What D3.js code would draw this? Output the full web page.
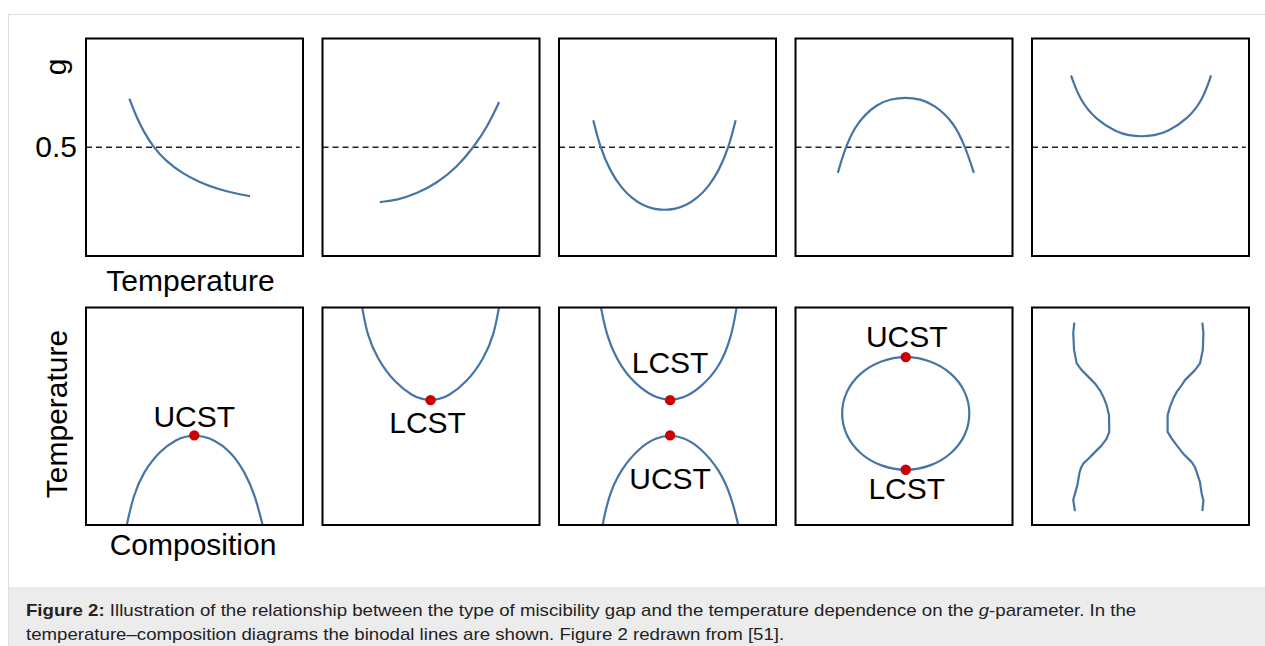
<!DOCTYPE html>
<html>
<head>
<meta charset="utf-8">
<script src="https://cdn.jsdelivr.net/npm/d3@7"></script>
<style>
  html, body { margin: 0; padding: 0; background: #fff; }
  svg { display: block; }
  text { font-family: "Liberation Sans", Arial, Helvetica, sans-serif; }
</style>
</head>
<body>
<svg id="chart" width="1265" height="646"></svg>
<script>
// ---------- DATA ----------
// Top row: g-parameter vs temperature (x: temperature 0..1, y: g 0..1)
const gDecreasing = [[0.200,0.723],[0.230,0.645],[0.265,0.573],[0.310,0.501],[0.370,0.435],[0.440,0.383],[0.520,0.340],[0.610,0.307],[0.690,0.287],[0.756,0.275]];
const gIncreasing = [[0.264,0.248],[0.344,0.257],[0.436,0.288],[0.529,0.336],[0.621,0.410],[0.697,0.501],[0.759,0.593],[0.814,0.708]];
const gMinimum = [[0.158,0.624],[0.189,0.501],[0.236,0.390],[0.286,0.315],[0.336,0.265],[0.386,0.233],[0.436,0.216],[0.486,0.211],[0.536,0.216],[0.586,0.233],[0.636,0.265],[0.686,0.315],[0.736,0.390],[0.783,0.501],[0.814,0.624]];
const gMaximum = [[0.195,0.382],[0.230,0.501],[0.284,0.616],[0.376,0.700],[0.440,0.722],[0.507,0.730],[0.575,0.722],[0.637,0.697],[0.729,0.616],[0.783,0.501],[0.822,0.382]];
const gAbove = [[0.180,0.830],[0.221,0.716],[0.298,0.624],[0.390,0.570],[0.447,0.554],[0.505,0.549],[0.563,0.554],[0.621,0.570],[0.720,0.631],[0.789,0.723],[0.825,0.830]];
const gReference = 0.5;
const gTickValues = [0.5];
const gTickLabels = ["0.5"];

// Bottom row: temperature vs composition (binodal lines)
const binodalUCST = [[0.188,0.0],[0.218,0.136],[0.264,0.243],[0.341,0.343],[0.418,0.394],[0.459,0.407],[0.499,0.412],[0.540,0.407],[0.586,0.394],[0.664,0.343],[0.733,0.243],[0.779,0.136],[0.814,0.0]];
const binodalLCST = [[0.183,1.0],[0.206,0.873],[0.252,0.766],[0.329,0.658],[0.421,0.589],[0.460,0.579],[0.498,0.574],[0.537,0.579],[0.575,0.589],[0.667,0.658],[0.744,0.766],[0.790,0.873],[0.813,1.0]];
const hourglassUpper = [[0.194,0.997],[0.220,0.866],[0.281,0.728],[0.373,0.628],[0.452,0.582],[0.512,0.574],[0.572,0.582],[0.650,0.628],[0.742,0.728],[0.795,0.866],[0.818,0.997]];
const hourglassLower = [[0.201,0.0],[0.227,0.128],[0.281,0.251],[0.373,0.359],[0.452,0.404],[0.512,0.412],[0.572,0.404],[0.650,0.359],[0.742,0.251],[0.795,0.128],[0.826,0.0]];
const closedLoop = [[0.801,0.513],[0.779,0.612],[0.715,0.696],[0.620,0.752],[0.508,0.772],[0.396,0.752],[0.301,0.696],[0.237,0.612],[0.215,0.513],[0.237,0.414],[0.301,0.330],[0.396,0.274],[0.508,0.254],[0.620,0.274],[0.715,0.330],[0.779,0.414]];
const wiggleLeft = [[0.195,0.930],[0.190,0.881],[0.194,0.804],[0.206,0.743],[0.229,0.712],[0.260,0.681],[0.275,0.666],[0.290,0.651],[0.306,0.628],[0.313,0.620],[0.329,0.589],[0.344,0.551],[0.355,0.505],[0.356,0.428],[0.344,0.397],[0.321,0.366],[0.290,0.335],[0.260,0.305],[0.236,0.282],[0.224,0.259],[0.218,0.236],[0.209,0.182],[0.198,0.144],[0.190,0.116],[0.198,0.064]];
const wiggleRight = [[0.785,0.930],[0.790,0.881],[0.787,0.804],[0.774,0.743],[0.751,0.712],[0.720,0.681],[0.705,0.666],[0.690,0.643],[0.679,0.628],[0.667,0.612],[0.651,0.582],[0.636,0.543],[0.625,0.505],[0.625,0.428],[0.644,0.397],[0.667,0.366],[0.697,0.328],[0.736,0.289],[0.751,0.266],[0.759,0.243],[0.774,0.197],[0.782,0.144],[0.790,0.113],[0.785,0.064]];

// critical points
const criticalPanels = [0, 1, 2, 2, 3, 3];
const criticalX = [0.499, 0.498, 0.512, 0.512, 0.508, 0.508];
const criticalY = [0.412, 0.574, 0.574, 0.412, 0.772, 0.254];
const criticalLabels = ["UCST", "LCST", "LCST", "UCST", "UCST", "LCST"];

const topLabelX = "Temperature";
const topLabelY = "g";
const bottomLabelX = "Composition";
const bottomLabelY = "Temperature";
const captionBold = "Figure 2:";
const captionLine1a = " Illustration of the relationship between the type of miscibility gap and the temperature dependence on the ";
const captionItalic = "g";
const captionLine1b = "-parameter. In the";
const captionLine2 = "temperature\u2013composition diagrams the binodal lines are shown. Figure 2 redrawn from [51].";

// ---------- LAYOUT ----------
const svg = d3.select("#chart");
const W = 1265, H = 646;
const panelLefts = [86, 322.5, 559, 795.5, 1032];
const panelW = 217, panelH = 217.5;
const topRowTop = 38.5, bottomRowTop = 307.5;
const lineColor = "#4674a6";
const dotColor = "#cc0000";
const fontSize = 30;
// label offsets (pixels) relative to the critical point marker
const labelDx = [0, -3, 0, 0, 1, 1];
const labelDy = [-8, 33, -27, 54, -10, 29];

svg.append("rect").attr("x", 0).attr("y", 0).attr("width", W).attr("height", H).attr("fill", "#fff");
svg.append("rect").attr("x", 8.5).attr("y", 14.5).attr("width", W).attr("height", H)
  .attr("fill", "#fff").attr("stroke", "#dedede").attr("stroke-width", 1);
svg.append("rect").attr("x", 9).attr("y", 587).attr("width", W - 9).attr("height", H - 587).attr("fill", "#ececec");

function makeScales(i, top) {
  const x = d3.scaleLinear().domain([0, 1]).range([panelLefts[i], panelLefts[i] + panelW]);
  const y = d3.scaleLinear().domain([0, 1]).range([top + panelH, top]);
  return { x, y };
}

const topSeries = [gDecreasing, gIncreasing, gMinimum, gMaximum, gAbove];
const bottomSeries = [[binodalUCST], [binodalLCST], [hourglassUpper, hourglassLower], [closedLoop], [wiggleLeft, wiggleRight]];

// Top row
topSeries.forEach((series, i) => {
  const { x, y } = makeScales(i, topRowTop);
  const g = svg.append("g");
  g.append("line")
    .attr("x1", x(0)).attr("x2", x(0.985))
    .attr("y1", y(gReference)).attr("y2", y(gReference))
    .attr("stroke", "#222").attr("stroke-width", 1.6).attr("stroke-dasharray", "6,4");
  const line = d3.line().x(d => x(d[0])).y(d => y(d[1])).curve(d3.curveBasis);
  g.append("path").attr("d", line(series)).attr("fill", "none")
    .attr("stroke", lineColor).attr("stroke-width", 2.2);
  g.append("rect").attr("x", x(0)).attr("y", y(1)).attr("width", panelW).attr("height", panelH)
    .attr("fill", "none").attr("stroke", "#000").attr("stroke-width", 2);
  if (i === 0) {
    const axis = d3.axisLeft(y).tickValues(gTickValues).tickFormat((d, k) => gTickLabels[k])
      .tickSize(0).tickPadding(9);
    const ag = svg.append("g").attr("transform", `translate(${x(0)},0)`).call(axis);
    ag.select(".domain").remove();
    ag.selectAll("text").attr("font-size", fontSize).attr("fill", "#000")
      .attr("font-family", '"Liberation Sans", Arial, sans-serif');
    svg.append("text").attr("transform", `translate(66,67) rotate(-90)`)
      .attr("text-anchor", "middle").attr("font-size", fontSize).attr("fill", "#000").text(topLabelY);
    svg.append("text").attr("x", 190.5).attr("y", 291).attr("text-anchor", "middle")
      .attr("font-size", fontSize).attr("fill", "#000").text(topLabelX);
  }
});

// Bottom row
bottomSeries.forEach((seriesList, i) => {
  const { x, y } = makeScales(i, bottomRowTop);
  const g = svg.append("g");
  seriesList.forEach(series => {
    let curve = d3.curveBasis;
    if (series === closedLoop) curve = d3.curveCatmullRomClosed.alpha(0.5);
    if (series === wiggleLeft || series === wiggleRight) curve = d3.curveLinear;
    const line = d3.line().x(d => x(d[0])).y(d => y(d[1])).curve(curve);
    g.append("path").attr("d", line(series)).attr("fill", "none")
      .attr("stroke", lineColor).attr("stroke-width", 2.2).attr("stroke-linejoin", "round");
  });
  g.append("rect").attr("x", x(0)).attr("y", y(1)).attr("width", panelW).attr("height", panelH)
    .attr("fill", "none").attr("stroke", "#000").attr("stroke-width", 2);
  criticalPanels.forEach((p, k) => {
    if (p !== i) return;
    const cx = x(criticalX[k]), cy = y(criticalY[k]);
    g.append("circle").attr("cx", cx).attr("cy", cy).attr("r", 5.2).attr("fill", dotColor);
    g.append("text").attr("x", cx + labelDx[k]).attr("y", cy + labelDy[k])
      .attr("text-anchor", "middle").attr("font-size", fontSize).attr("fill", "#000")
      .text(criticalLabels[k]);
  });
  if (i === 0) {
    svg.append("text").attr("transform", `translate(67,414) rotate(-90)`)
      .attr("text-anchor", "middle").attr("font-size", fontSize).attr("fill", "#000").text(bottomLabelY);
    svg.append("text").attr("x", 193).attr("y", 555).attr("text-anchor", "middle")
      .attr("font-size", fontSize).attr("fill", "#000").text(bottomLabelX);
  }
});

// Caption
function fitText(sel, x0, targetW) {
  const w = sel.node().getComputedTextLength();
  const s = targetW / w;
  const yv = +sel.attr("y");
  sel.attr("transform", `translate(${x0},${yv}) scale(${s},1) translate(${-x0},${-yv})`);
}
const cap1 = svg.append("text").attr("x", 26).attr("y", 616).attr("font-size", 16).attr("fill", "#222");
cap1.append("tspan").attr("font-weight", "bold").text(captionBold);
cap1.append("tspan").text(captionLine1a);
cap1.append("tspan").attr("font-style", "italic").text(captionItalic);
cap1.append("tspan").text(captionLine1b);
fitText(cap1, 26, 1111);
const cap2 = svg.append("text").attr("x", 26).attr("y", 640).attr("font-size", 16).attr("fill", "#222").text(captionLine2);
fitText(cap2, 26, 759);
</script>
</body>
</html>
